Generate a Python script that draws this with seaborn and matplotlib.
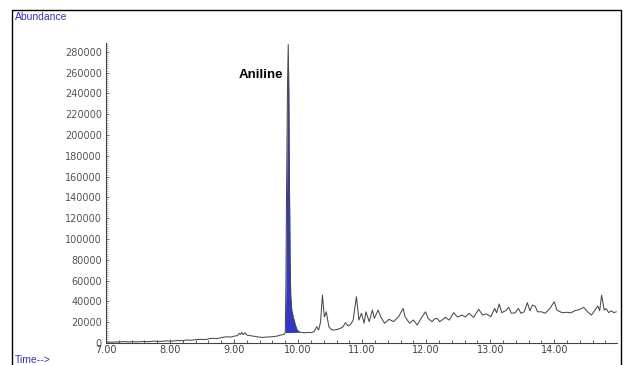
import numpy as np
import pandas as pd
import matplotlib
matplotlib.use("Agg")
import matplotlib.pyplot as plt
import matplotlib.patches as mpatches
from matplotlib.ticker import MultipleLocator, FormatStrFormatter
import seaborn as sns

# ---- data ----
time = [7.00, 7.05, 7.10, 7.15, 7.20, 7.27, 7.35, 7.42, 7.50, 7.58, 7.66, 7.75, 7.83, 7.94,
        8.03, 8.12, 8.20, 8.25, 8.33, 8.40, 8.46, 8.55, 8.62, 8.67, 8.74, 8.80, 8.88, 8.95,
        9.01, 9.05, 9.08, 9.10, 9.12, 9.14, 9.17, 9.20, 9.24, 9.29, 9.35, 9.40, 9.45, 9.52,
        9.60, 9.66, 9.73, 9.78, 9.80, 9.81, 9.82, 9.835, 9.846, 9.855, 9.865, 9.875, 9.885,
        9.90, 9.92, 9.95, 9.98, 10.01, 10.04, 10.10, 10.15, 10.20, 10.25, 10.29, 10.32, 10.35,
        10.38, 10.41, 10.44, 10.48, 10.52, 10.56, 10.61, 10.66, 10.70, 10.74, 10.78, 10.82,
        10.86, 10.91, 10.95, 10.99, 11.03, 11.06, 11.11, 11.16, 11.19, 11.25, 11.29, 11.35,
        11.42, 11.49, 11.57, 11.64, 11.67, 11.74, 11.80, 11.86, 11.92, 11.99, 12.03, 12.09,
        12.13, 12.17, 12.21, 12.25, 12.30, 12.36, 12.43, 12.49, 12.56, 12.61, 12.67, 12.74,
        12.82, 12.88, 12.94, 13.01, 13.07, 13.10, 13.14, 13.18, 13.24, 13.29, 13.33, 13.39,
        13.44, 13.48, 13.53, 13.58, 13.62, 13.66, 13.70, 13.74, 13.80, 13.86, 13.93, 14.00,
        14.04, 14.12, 14.20, 14.26, 14.32, 14.39, 14.46, 14.52, 14.58, 14.63, 14.68, 14.71,
        14.74, 14.78, 14.81, 14.85, 14.89, 14.93, 14.97]
abundance = [500, 900, 700, 1100, 900, 1400, 1000, 1300, 1100, 1500, 1300, 1800, 1500, 2000,
             1800, 2400, 2200, 2900, 2600, 3200, 3500, 3300, 4200, 4500, 4300, 5200, 6000, 5700,
             6700, 7000, 9300, 8200, 10200, 8000, 9900, 7600, 7200, 6700, 6000, 5600, 5400, 5800,
             6000, 6500, 7700, 8300, 10000, 60000, 150000, 250000, 287000, 240000, 150000, 80000, 45000,
             32000, 26000, 19000, 13000, 11000, 10300, 9800, 10200, 10000, 10900, 15700, 12500, 20000,
             46000, 25000, 30000, 15700, 13000, 12500, 13000, 14100, 15500, 19500, 16300, 18000,
             22000, 44500, 22100, 28600, 19000, 30000, 20500, 31700, 23700, 31700, 25300, 19000,
             22800, 20500, 25300, 33300, 25300, 19000, 22100, 17300, 23700, 30000, 23700, 20500,
             23000, 23700, 20500, 22100, 24700, 22000, 29200, 25000, 26900, 25000, 28600, 24700,
             32400, 26900, 28000, 25300, 33300, 29000, 37500, 29200, 31000, 34300, 28600, 29000,
             33300, 28600, 30000, 38800, 31000, 36500, 35500, 30000, 30000, 28600, 33000, 39700,
             31700, 29200, 29500, 29000, 31000, 32000, 34300, 30000, 26900, 31000, 35600, 31000,
             46000, 31700, 33000, 29200, 31000, 29200, 30000]

peak_name = "Aniline"
peak_start = 9.80
peak_end = 10.04
y_ticks = list(range(0, 280001, 20000))
x_ticks = [7.0, 8.0, 9.0, 10.0, 11.0, 12.0, 13.0, 14.0]

df = pd.DataFrame({"time": time, "abundance": abundance})

sns.set_style("white")
plt.rcParams["font.family"] = ["DejaVu Sans"]

fig = plt.figure(figsize=(6.24, 3.65), dpi=100)
ax = fig.add_axes([106 / 624, 22 / 365, 511 / 624, 300 / 365])

# integrated peak area (blue fill above the drop baseline)
t = np.array(time, dtype=float)
a = np.array(abundance, dtype=float)
mask = (t >= peak_start) & (t <= peak_end)
base = np.interp(t, [peak_start, peak_end],
                 [np.interp(peak_start, t, a), np.interp(peak_end, t, a)])
ax.fill_between(t[mask], base[mask], a[mask], color="#3338c4", linewidth=0)

sns.lineplot(data=df, x="time", y="abundance", ax=ax, color="#4a4a4a", linewidth=0.75,
             estimator=None, sort=False)

ax.set_xlim(7.0, 14.98)
ax.set_ylim(0, 288500)
ax.set_xticks(x_ticks)
ax.set_yticks(y_ticks)
ax.xaxis.set_minor_locator(MultipleLocator(0.2))
ax.yaxis.set_minor_locator(MultipleLocator(2000))
ax.xaxis.set_major_formatter(FormatStrFormatter("%.2f"))
ax.set_xlabel("")
ax.set_ylabel("")

ax.tick_params(axis="x", which="major", direction="in", length=3, width=0.6,
               labelsize=7, pad=1.5, colors="#444444")
ax.tick_params(axis="x", which="minor", direction="in", length=2.5, width=0.6, colors="#444444")
ax.tick_params(axis="y", which="major", direction="in", length=2.5, width=0.6,
               labelsize=7, pad=3, colors="#555555")
ax.tick_params(axis="y", which="minor", direction="in", length=1.5, width=0.5, colors="#999999")
ax.tick_params(bottom=True, left=True, which="both")

for s in ["top", "right"]:
    ax.spines[s].set_visible(False)
for s in ["left", "bottom"]:
    ax.spines[s].set_color("#444444")
    ax.spines[s].set_linewidth(0.8)

ax.text(9.77, 257700, peak_name, ha="right", va="center", fontsize=9.5, fontweight="bold",
        family="Liberation Sans", color="black")

# outer frame and labels
frame = mpatches.Rectangle((12 / 624, -0.05), (621 - 12) / 624, (365 - 10) / 365 + 0.05,
                           transform=fig.transFigure, fill=False, edgecolor="black",
                           linewidth=1.0, clip_on=False)
fig.patches.append(frame)
fig.text(15 / 624, 1 - 17 / 365, "Abundance", fontsize=7.5, color="#3535a8",
         family="Liberation Sans", va="center", ha="left")
fig.text(15 / 624, 1 - 360 / 365, "Time-->", fontsize=7.5, color="#3535a8",
         family="Liberation Sans", va="center", ha="left")

fig.savefig("out.png", dpi=100)
